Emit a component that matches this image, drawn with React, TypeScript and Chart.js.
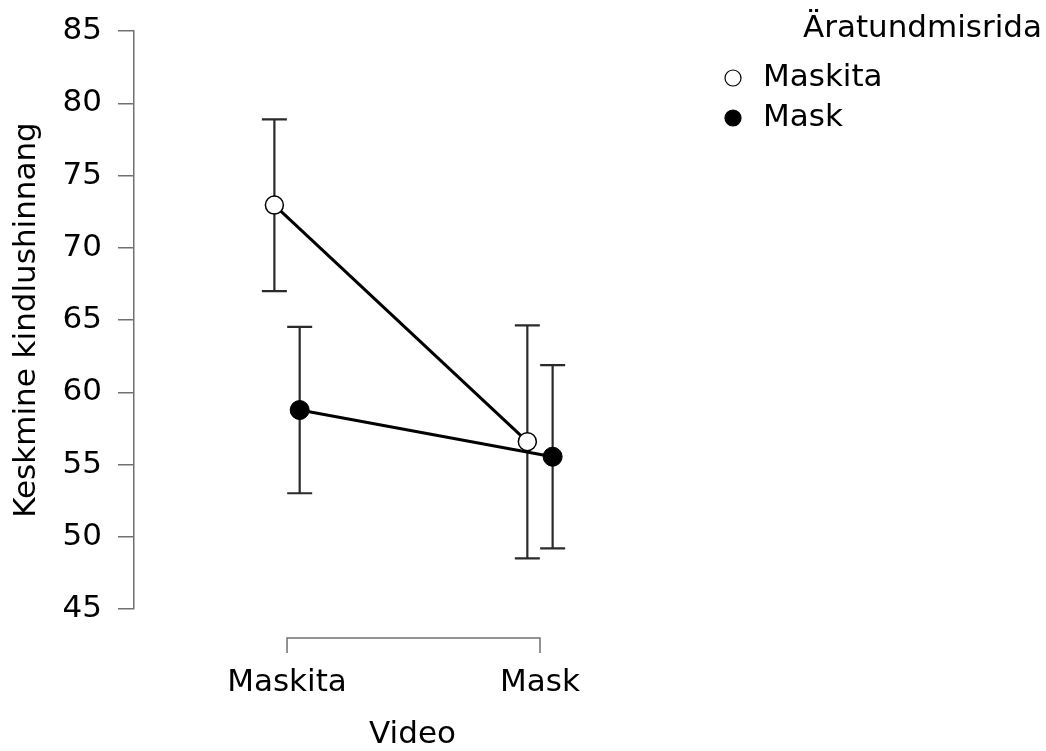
import React, { useEffect, useRef } from "react";
import { Chart, registerables } from "chart.js";

Chart.register(...registerables);

// ---- data ----
const categories = ["Maskita", "Mask"];
const seriesNames = ["Maskita", "Mask"];
const meanMaskita = [72.95, 56.58];
const lowerMaskita = [67.0, 48.51];
const upperMaskita = [78.89, 64.63];
const meanMask = [58.77, 55.54];
const lowerMask = [53.01, 49.2];
const upperMask = [64.53, 61.88];
const yTickValues = [45, 50, 55, 60, 65, 70, 75, 80, 85];
const xTitle = "Video";
const yTitle = "Keskmine kindlushinnang";
const legendTitle = "Äratundmisrida";

const FONT = "DejaVu Sans";
const FS = 31;
const AXIS_COLOR = "#707070";
const DODGE = 0.05;

const errorBarPlugin = {
  id: "errorBars",
  beforeDatasetsDraw(chart: any) {
    const { ctx, scales } = chart;
    const x = scales.x;
    const y = scales.y;
    ctx.save();
    ctx.strokeStyle = "#2a2a2a";
    ctx.lineWidth = 2.2;
    chart.data.datasets.forEach((ds: any) => {
      ds.data.forEach((pt: any, j: number) => {
        const px = x.getPixelForValue(pt.x);
        const top = y.getPixelForValue(ds.upper[j]);
        const bot = y.getPixelForValue(ds.lower[j]);
        const cap = 12.5;
        ctx.beginPath();
        ctx.moveTo(px, top);
        ctx.lineTo(px, bot);
        ctx.moveTo(px - cap, top);
        ctx.lineTo(px + cap, top);
        ctx.moveTo(px - cap, bot);
        ctx.lineTo(px + cap, bot);
        ctx.stroke();
      });
    });
    ctx.restore();
  },
};

const xBracketPlugin = {
  id: "xBracket",
  afterDraw(chart: any) {
    const { ctx, scales, chartArea } = chart;
    const x = scales.x;
    const y0 = chartArea.bottom + 29;
    const x0 = x.getPixelForValue(0);
    const x1 = x.getPixelForValue(categories.length - 1);
    ctx.save();
    ctx.strokeStyle = AXIS_COLOR;
    ctx.lineWidth = 1.5;
    ctx.beginPath();
    ctx.moveTo(x0, y0 + 15);
    ctx.lineTo(x0, y0);
    ctx.lineTo(x1, y0);
    ctx.lineTo(x1, y0 + 15);
    ctx.stroke();
    ctx.restore();
  },
};

const legendPlugin = {
  id: "customLegend",
  afterDraw(chart: any) {
    const { ctx } = chart;
    ctx.save();
    ctx.font = `${FS}px '${FONT}'`;
    ctx.fillStyle = "#000";
    ctx.textBaseline = "middle";
    ctx.textAlign = "right";
    ctx.fillText(legendTitle, 1042, 29);
    ctx.textAlign = "left";
    chart.data.datasets.forEach((ds: any, i: number) => {
      const cy = 78 + i * 40;
      ctx.beginPath();
      ctx.arc(733, cy, 8, 0, Math.PI * 2);
      ctx.fillStyle = ds.pointBackgroundColor;
      ctx.fill();
      ctx.strokeStyle = "#000";
      ctx.lineWidth = 1.2;
      ctx.stroke();
      ctx.fillStyle = "#000";
      ctx.fillText(ds.label, 763, cy);
    });
    ctx.restore();
  },
};

export default function App() {
  const ref = useRef<HTMLCanvasElement>(null);

  useEffect(() => {
    document.body.style.margin = "0";
    document.body.style.overflow = "hidden";
    const canvas = ref.current!;
    const mk = (means: number[], off: number) =>
      means.map((v, i) => ({ x: i + off, y: v }));

    const chart = new Chart(canvas, {
      type: "line",
      data: {
        datasets: [
          {
            label: seriesNames[0],
            data: mk(meanMaskita, -DODGE),
            upper: upperMaskita,
            lower: lowerMaskita,
            borderColor: "#000",
            borderWidth: 3,
            pointRadius: 9,
            pointBorderWidth: 1.5,
            pointBackgroundColor: "#ffffff",
            pointBorderColor: "#000",
            tension: 0,
          } as any,
          {
            label: seriesNames[1],
            data: mk(meanMask, DODGE),
            upper: upperMask,
            lower: lowerMask,
            borderColor: "#000",
            borderWidth: 3,
            pointRadius: 9.5,
            pointBorderWidth: 1,
            pointBackgroundColor: "#000000",
            pointBorderColor: "#000",
            tension: 0,
          } as any,
        ],
      },
      options: {
        animation: false,
        responsive: false,
        layout: { padding: { top: 31, right: 1046 - 691, bottom: 0, left: 0 } },
        plugins: { legend: { display: false }, tooltip: { enabled: false } },
        scales: {
          x: {
            type: "linear",
            min: -0.605,
            max: 1.597,
            afterBuildTicks: (s: any) => {
              s.ticks = categories.map((_, i) => ({ value: i }));
            },
            afterFit: (s: any) => {
              s.height = 751 - 609;
            },
            grid: { display: false, drawTicks: false },
            border: { display: false },
            ticks: {
              autoSkip: false,
              maxRotation: 0,
              padding: 55,
              color: "#000",
              font: { family: FONT, size: FS },
              callback: (v: any) => categories[v] ?? "",
            },
            title: {
              display: true,
              text: xTitle,
              color: "#000",
              font: { family: FONT, size: FS },
              padding: { top: 0, bottom: -3 },
            },
          },
          y: {
            type: "linear",
            min: 45,
            max: 85,
            afterBuildTicks: (s: any) => {
              s.ticks = yTickValues.map((v) => ({ value: v }));
            },
            afterFit: (s: any) => {
              s.width = 134;
            },
            grid: {
              display: true,
              drawOnChartArea: false,
              drawTicks: true,
              tickLength: 16,
              color: AXIS_COLOR,
              lineWidth: 1.5,
            },
            border: { display: true, color: AXIS_COLOR, width: 1.5 },
            ticks: {
              padding: 16,
              color: "#000",
              font: { family: FONT, size: FS, lineHeight: 0.5 },
            },
            title: {
              display: true,
              text: yTitle,
              color: "#000",
              font: { family: FONT, size: FS },
              padding: { top: 8, bottom: 0 },
            },
          },
        },
      },
      plugins: [errorBarPlugin, xBracketPlugin, legendPlugin],
    } as any);
    return () => chart.destroy();
  }, []);

  return (
    <div style={{ width: 1046, height: 751 }}>
      <canvas ref={ref} width={1046} height={751} style={{ display: "block" }} />
    </div>
  );
}
